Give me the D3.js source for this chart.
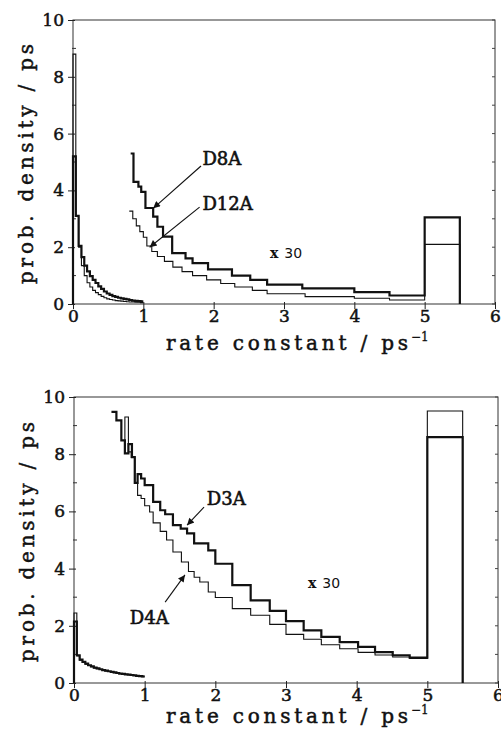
<!DOCTYPE html>
<html>
<head>
<meta charset="utf-8">
<script src="https://cdn.jsdelivr.net/npm/d3@7"></script>
<style>
  body { margin: 0; background: #fff; }
  svg { display: block; }
  text { fill: #111; }
</style>
</head>
<body>
<svg id="viz"></svg>
<script>
let width = 501;
let height = 734;

// axis ticks
const kTicks = [0, 1, 2, 3, 4, 5, 6];
const densityTicks = [0, 2, 4, 6, 8, 10];
const densityMinor = [1, 3, 5, 7, 9];

// left (unscaled) histograms, bins of 0.04 between 0 and 1
const lowK = [0, 0.04, 0.08, 0.12, 0.16, 0.2, 0.24, 0.28, 0.32, 0.36, 0.4, 0.44, 0.48,
              0.52, 0.56, 0.6, 0.64, 0.68, 0.72, 0.76, 0.8, 0.84, 0.88, 0.92, 0.96, 1.0];

// top panel
const d8aLow  = [5.2, 3.1, 2.05, 1.65, 1.35, 1.15, 0.98, 0.85, 0.74, 0.62, 0.53, 0.44, 0.37,
                 0.32, 0.28, 0.25, 0.22, 0.2, 0.18, 0.16, 0.14, 0.12, 0.11, 0.1, 0.09];
const d12aLow = [8.8, 3.1, 2.0, 1.35, 1.0, 0.75, 0.6, 0.48, 0.4, 0.33, 0.27, 0.22, 0.18,
                 0.16, 0.14, 0.12, 0.11, 0.1, 0.09, 0.08, 0.07, 0.07, 0.06, 0.06, 0.05];
// x 30 part
const d8aHighK = [0.82, 0.86, 0.93, 0.97, 1.03, 1.14, 1.2, 1.28, 1.41, 1.6, 1.7, 1.92, 2.26,
                  2.52, 2.76, 3.26, 4.0, 4.5, 5.0];
const d8aHigh  = [5.3, 4.3, 4.13, 3.95, 3.38, 3.08, 2.72, 2.37, 1.79, 1.61, 1.44, 1.22, 1.0,
                  0.85, 0.68, 0.55, 0.42, 0.3];
const d12aHighK = [0.8, 0.85, 0.9, 0.95, 1.0, 1.05, 1.12, 1.2, 1.3, 1.42, 1.55, 1.7, 1.9, 2.1,
                   2.3, 2.55, 2.76, 3.3, 4.0, 4.5, 5.0];
const d12aHigh  = [3.27, 3.0, 2.75, 2.55, 2.35, 2.04, 1.85, 1.67, 1.5, 1.3, 1.14, 1.0, 0.85,
                   0.72, 0.6, 0.48, 0.36, 0.26, 0.2, 0.14];

// bottom panel
const d3aLow = [2.15, 0.97, 0.82, 0.74, 0.68, 0.62, 0.58, 0.54, 0.51, 0.48, 0.45, 0.43, 0.41,
                0.39, 0.37, 0.35, 0.33, 0.32, 0.3, 0.29, 0.28, 0.27, 0.25, 0.24, 0.23];
const d4aLow = [2.45, 0.95, 0.8, 0.72, 0.66, 0.61, 0.57, 0.53, 0.5, 0.47, 0.44, 0.42, 0.4,
                0.38, 0.36, 0.34, 0.33, 0.31, 0.3, 0.29, 0.27, 0.26, 0.25, 0.24, 0.22];
const d3aHighK = [0.53, 0.6, 0.67, 0.72, 0.77, 0.82, 0.86, 0.9, 0.95, 1.0, 1.12, 1.22, 1.29,
                  1.4, 1.51, 1.6, 1.7, 1.9, 2.0, 2.24, 2.5, 2.77, 3.0, 3.25, 3.5, 3.76, 4.02,
                  4.26, 4.51, 4.75, 5.0];
const d3aHigh  = [9.48, 9.18, 8.48, 8.03, 8.35, 7.9, 7.0, 7.3, 7.15, 6.92, 6.33, 6.04, 5.9,
                  5.52, 5.4, 5.23, 4.88, 4.64, 4.17, 3.42, 2.89, 2.52, 2.16, 1.84, 1.61, 1.43,
                  1.26, 1.08, 0.97, 0.89];
const d4aHighK = [0.67, 0.72, 0.77, 0.81, 0.86, 0.9, 0.95, 1.0, 1.07, 1.12, 1.22, 1.31, 1.4,
                  1.52, 1.62, 1.7, 1.78, 1.9, 2.0, 2.24, 2.5, 2.77, 3.0, 3.25, 3.5, 3.76, 4.02,
                  4.26, 4.51, 4.75, 5.0];
const d4aHigh  = [8.48, 9.3, 8.08, 7.89, 6.99, 6.56, 6.45, 6.2, 5.98, 5.6, 5.3, 5.0, 4.58,
                  4.23, 3.9, 3.7, 3.53, 3.18, 2.99, 2.6, 2.37, 2.05, 1.7, 1.53, 1.34, 1.2,
                  1.07, 0.98, 0.91, 0.86];

// the last bin (5 - 5.5)
const barK = [5.0, 5.5];
const d8aBar = 3.05, d12aBar = 2.1, d3aBar = 8.6, d4aBar = 9.51;

let svg = d3.select("#viz")
    .attr("width", width)
    .attr("height", height);

svg.append("rect").attr("width", width).attr("height", height).attr("fill", "#fff");

svg.append("defs").append("marker")
    .attr("id", "head")
    .attr("viewBox", "0 0 10 10")
    .attr("refX", 10).attr("refY", 5)
    .attr("markerWidth", 9).attr("markerHeight", 7)
    .attr("markerUnits", "userSpaceOnUse")
    .attr("orient", "auto")
    .append("path")
    .attr("d", "M0,0 L10,5 L0,10 Z")
    .attr("fill", "#111");

// histogram outline: flat tops joined by vertical risers
function stepPoints(edges, values) {
    let pts = [];
    values.forEach((v, i) => {
        pts.push([edges[i], v]);
        pts.push([edges[i + 1], v]);
    });
    return pts;
}

let panels = [
    {
        box: { left: 73, right: 495, top: 20, bottom: 304 },
        series: [
            { low: d12aLow, highK: d12aHighK, high: d12aHigh, bar: d12aBar, w: 1.1 },
            { low: d8aLow, highK: d8aHighK, high: d8aHigh, bar: d8aBar, w: 2.2 }
        ],
        labels: [
            { text: "D8A", at: [1.84, 4.89], from: [1.82, 4.86], to: [1.14, 3.37] },
            { text: "D12A", at: [1.84, 3.31], from: [1.8, 3.41], to: [1.09, 2.0] }
        ],
        times: [2.80, 1.62],
        titleY: 350
    },
    {
        box: { left: 74, right: 498, top: 397, bottom: 683 },
        series: [
            { low: d4aLow, highK: d4aHighK, high: d4aHigh, bar: d4aBar, w: 1.1 },
            { low: d3aLow, highK: d3aHighK, high: d3aHigh, bar: d3aBar, w: 2.2 }
        ],
        labels: [
            { text: "D3A", at: [1.88, 6.22], from: [1.84, 6.15], to: [1.6, 5.52] },
            { text: "D4A", at: [0.79, 2.06], from: [1.29, 2.83], to: [1.57, 3.78] }
        ],
        times: [3.31, 3.32],
        titleY: 723
    }
];

panels.forEach(drawPanel);

function drawPanel(p) {
    let b = p.box;
    let x = d3.scaleLinear().domain([0, 6]).range([b.left, b.right]);
    let y = d3.scaleLinear().domain([0, 10]).range([b.bottom, b.top]);
    let g = svg.append("g");

    // frame
    g.append("rect")
        .attr("x", b.left).attr("y", b.top)
        .attr("width", b.right - b.left).attr("height", b.bottom - b.top)
        .attr("fill", "none").attr("stroke", "#333").attr("stroke-width", 1);

    // x axis
    let xAxis = g.append("g")
        .attr("transform", "translate(0," + b.bottom + ")")
        .call(d3.axisBottom(x).tickValues(kTicks).tickFormat(d3.format("d")).tickSize(5).tickPadding(1));
    xAxis.select(".domain").remove();
    xAxis.selectAll("line").attr("y1", -2).attr("stroke", "#222");
    xAxis.selectAll("text")
        .attr("font-family", "DejaVu Serif").attr("font-size", 17)
        .attr("stroke", "#111").attr("stroke-width", 0.5).attr("fill", "#111");

    // y axis
    let yAxis = g.append("g")
        .attr("transform", "translate(" + b.left + ",0)")
        .call(d3.axisLeft(y).tickValues(densityTicks).tickSize(5).tickPadding(4));
    yAxis.select(".domain").remove();
    yAxis.selectAll("line").attr("x1", 2).attr("stroke", "#222");
    yAxis.selectAll("text")
        .attr("font-family", "DejaVu Serif").attr("font-size", 17)
        .attr("stroke", "#111").attr("stroke-width", 0.5).attr("fill", "#111");

    g.selectAll(".minor")
        .data(densityMinor)
        .enter()
        .append("line")
        .attr("x1", b.left - 1).attr("x2", b.left + 3)
        .attr("y1", d => y(d)).attr("y2", d => y(d))
        .attr("stroke", "#333");

    // small ticks on the right side
    g.selectAll(".rtick")
        .data(densityTicks.concat(densityMinor))
        .enter()
        .append("line")
        .attr("x1", b.right - 3).attr("x2", b.right)
        .attr("y1", d => y(d)).attr("y2", d => y(d))
        .attr("stroke", "#444");

    let line = d3.line().x(d => x(d[0])).y(d => y(d[1]));

    p.series.forEach(s => {
        let lowPts = [[lowK[0], 0]].concat(stepPoints(lowK, s.low));
        let highPts = stepPoints(s.highK, s.high)
            .concat([[barK[0], s.bar], [barK[1], s.bar], [barK[1], 0]]);
        [lowPts, highPts].forEach(pts => {
            g.append("path")
                .attr("d", line(pts))
                .attr("fill", "none")
                .attr("stroke", "#111")
                .attr("stroke-width", s.w)
                .attr("stroke-linejoin", "miter");
        });
    });

    // labels with arrows
    p.labels.forEach(l => {
        g.append("text")
            .attr("x", x(l.at[0])).attr("y", y(l.at[1]))
            .attr("font-family", "DejaVu Serif").attr("font-size", 18)
            .attr("stroke", "#111").attr("stroke-width", 0.6)
            .text(l.text);
        g.append("line")
            .attr("x1", x(l.from[0])).attr("y1", y(l.from[1]))
            .attr("x2", x(l.to[0])).attr("y2", y(l.to[1]))
            .attr("stroke", "#111").attr("stroke-width", 1.1)
            .attr("marker-end", "url(#head)");
    });

    let t = g.append("text")
        .attr("x", x(p.times[0])).attr("y", y(p.times[1]));
    t.append("tspan").attr("font-family", "DejaVu Serif").attr("font-weight", "bold")
        .attr("font-size", 14).text("x");
    t.append("tspan").attr("font-family", "DejaVu Sans").attr("font-size", 14)
        .attr("dx", 6).text("30");

    // axis titles
    g.append("text")
        .attr("x", 166).attr("y", p.titleY)
        .attr("font-family", "DejaVu Serif").attr("font-size", 20)
        .attr("stroke", "#111").attr("stroke-width", 0.5)
        .attr("textLength", 242).attr("lengthAdjust", "spacing")
        .text("rate constant / ps");
    g.append("text")
        .attr("x", 411).attr("y", p.titleY - 9)
        .attr("font-family", "DejaVu Serif").attr("font-size", 12)
        .attr("stroke", "#111").attr("stroke-width", 0.3)
        .text("\u22121");

    let cy = (b.top + b.bottom) / 2 + 2;
    g.append("text")
        .attr("transform", "translate(" + (b.left - 40) + "," + cy + ") rotate(-90)")
        .attr("text-anchor", "middle")
        .attr("font-family", "DejaVu Serif").attr("font-size", 20)
        .attr("stroke", "#111").attr("stroke-width", 0.5)
        .attr("textLength", 240).attr("lengthAdjust", "spacing")
        .text("prob. density / ps");
}
</script>
</body>
</html>
